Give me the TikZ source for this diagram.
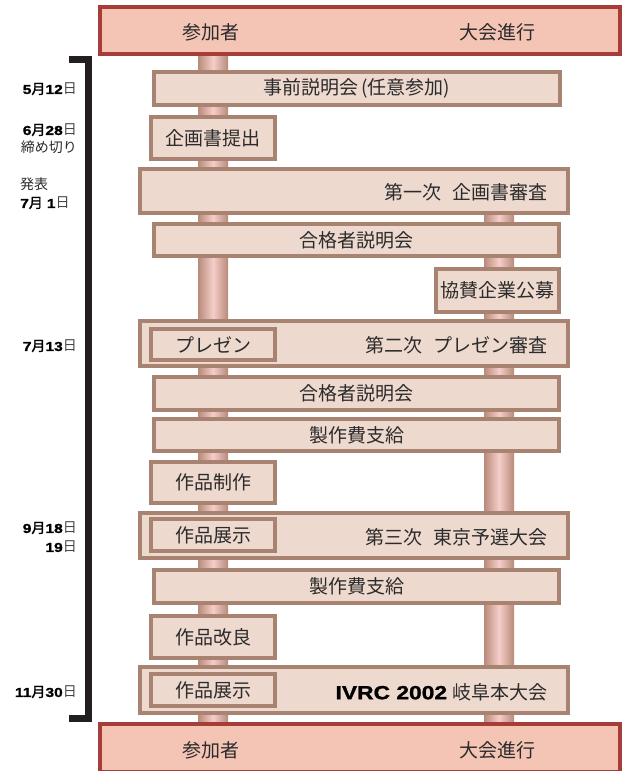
\documentclass[tikz,border=0pt]{standalone}
\usepackage{fontspec}
\usetikzlibrary{calc,backgrounds}
\newfontfamily\jp{Noto Sans CJK JP}
\newfontfamily\jpb{Noto Sans CJK JP}[FakeBold=1.6]
\newfontfamily\numf{Liberation Sans}[FakeStretch=1.2,BoldFeatures={FakeBold=1.2}]
\definecolor{hdrfill}{HTML}{F4C5B5}
\definecolor{hdrdraw}{HTML}{A63D38}
\definecolor{boxfill}{HTML}{EED9CF}
\definecolor{boxdraw}{HTML}{A88371}
\definecolor{pedge}{HTML}{B88A7A}
\definecolor{pmid}{HTML}{F5CEC9}
\definecolor{txt}{HTML}{2B2B2B}
\definecolor{daygray}{HTML}{444444}
\definecolor{brk}{HTML}{231F20}
\newcommand\Nm[1]{{\numf\bfseries\fontsize{13}{15}\selectfont #1}}
\newcommand\Mo{{\jpb\fontsize{14}{16}\selectfont 月}}
\newcommand\Dy{{\jp\fontsize{14}{16}\selectfont\color{daygray}日}}
\begin{document}
\begin{tikzpicture}[x=1pt,y=-1pt,
  hdr/.style={draw=hdrdraw,fill=hdrfill,line width=4pt,inner sep=0pt},
  box/.style={draw=boxdraw,fill=boxfill,line width=4pt,inner sep=0pt,
    font=\jp\fontsize{19}{22}\selectfont,text=txt},
  jtxt/.style={font=\jp\fontsize{19}{22}\selectfont,text=txt,inner sep=0pt},
  datel/.style={inner sep=0pt,text=black},
  pillar/.style={left color=pedge,right color=pedge,middle color=pmid},
  bracket/.style={draw=brk,line width=6.5pt,miter limit=10}]
\useasboundingbox (0,0) rectangle (626,771);
% header / footer
\node[hdr,minimum width=520pt,minimum height=47pt] (top) at (360,30.5) {};
\node[jtxt] (topL) at (211,32) {参加者};
\node[jtxt] (topR) at (497,32) {大会進行};
% boxes
\node[box,minimum width=406pt,minimum height=33pt] (b1) at (357,88.5) {事前説明会\kern0.15em(任意参加)};
\node[box,minimum width=124pt,minimum height=42pt] (b2) at (213,138) {企画書提出};
\node[box,minimum width=428pt,minimum height=44pt] (b3) at (354,191) {};
\node[jtxt,anchor=east] (t3) at (548,192) {第一次\hspace{0.6em}企画書審査};
\node[box,minimum width=405pt,minimum height=32pt] (b4) at (356.5,240) {合格者説明会};
\node[box,minimum width=123pt,minimum height=43pt] (b5) at (497.5,290.5) {協賛企業公募};
\node[box,minimum width=428pt,minimum height=45pt] (b6) at (354,343.5) {};
\node[box,minimum width=124pt,minimum height=31pt] (b6i) at (213,344.5) {プレゼン};
\node[jtxt,anchor=east] (t6) at (548,345) {第二次\hspace{0.6em}プレゼン審査};
\node[box,minimum width=405pt,minimum height=33pt] (b7) at (356.5,393.5) {合格者説明会};
\node[box,minimum width=405pt,minimum height=32pt] (b8) at (356.5,435) {製作費支給};
\node[box,minimum width=124pt,minimum height=41pt] (b9) at (213,482.5) {作品制作};
\node[box,minimum width=428pt,minimum height=45pt] (b10) at (354,535.5) {};
\node[box,minimum width=124pt,minimum height=32pt] (b10i) at (213,535) {作品展示};
\node[jtxt,anchor=east] (t10) at (548,537) {第三次\hspace{0.6em}東京予選大会};
\node[box,minimum width=405pt,minimum height=33pt] (b11) at (356.5,586.5) {製作費支給};
\node[box,minimum width=124pt,minimum height=42pt] (b12) at (213,637) {作品改良};
\node[box,minimum width=428pt,minimum height=46pt] (b13) at (354,690) {};
\node[box,minimum width=124pt,minimum height=32pt] (b13i) at (213,690) {作品展示};
\node[jtxt,anchor=east] (t13) at (548,692) {{\numf\bfseries\fontsize{19}{22}\selectfont\color{black}IVRC 2002}\hspace{0.3em}岐阜本大会};
\node[hdr,minimum width=520pt,minimum height=48pt] (bot) at (360,748) {};
\node[jtxt] (botL) at (211,750) {参加者};
\node[jtxt] (botR) at (497,750) {大会進行};
% pillars
\coordinate (pl) at (213,0);
\coordinate (pr) at (499,0);
\begin{scope}[on background layer]
\shade[pillar] ($(top.center -| pl)+(-15,0)$) rectangle ($(bot.center -| pl)+(15,0)$);
\shade[pillar] ($(b3.center -| pr)+(-15,0)$) rectangle ($(bot.center -| pr)+(15,0)$);
\end{scope}
% bracket
\coordinate (k1) at (69,59.5);
\coordinate (k2) at (88.5,59.5);
\coordinate (k3) at (88.5,718.5);
\coordinate (k4) at (69,718.5);
\draw[bracket] (k1) -- (k2) -- (k3) -- (k4);
% dates
\node[datel,anchor=east] (d1) at (77,89) {\Nm{5}\Mo\Nm{12}\Dy};
\node[datel,anchor=east] (d2) at (77,130) {\Nm{6}\Mo\Nm{28}\Dy};
\node[datel,anchor=east] (d2b) at (77,147) {\jp\fontsize{14}{16}\selectfont\color{txt}締め切り};
\node[datel,anchor=west] (d3a) at (20,184) {\jp\fontsize{14}{16}\selectfont\color{txt}発表};
\node[datel,anchor=west] (d3) at (20,203) {\Nm{7}\Mo\hspace{4pt}\Nm{1}\Dy};
\node[datel,anchor=east] (d4) at (77,346) {\Nm{7}\Mo\Nm{13}\Dy};
\node[datel,anchor=east] (d5) at (77,528) {\Nm{9}\Mo\Nm{18}\Dy};
\node[datel,anchor=east] (d5b) at (77,547) {\Nm{19}\Dy};
\node[datel,anchor=east] (d6) at (77,692) {\Nm{11}\Mo\Nm{30}\Dy};
\end{tikzpicture}
\end{document}
